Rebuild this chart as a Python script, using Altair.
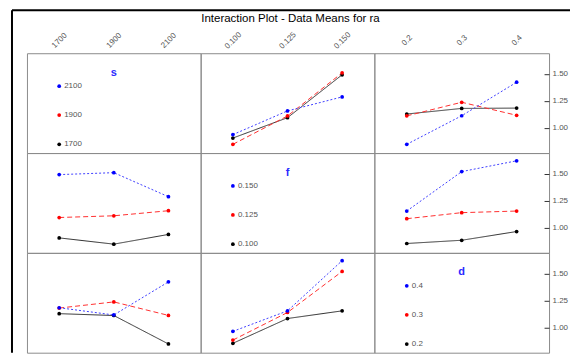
import altair as alt
import pandas as pd

# ---- data ----
factor_names = ["s", "f", "d"]
s_levels = ["1700", "1900", "2100"]
f_levels = ["0.100", "0.125", "0.150"]
d_levels = ["0.2", "0.3", "0.4"]
levels = [s_levels, f_levels, d_levels]

# means of ra: rows = first factor level, cols = second factor level
means_s_f = [[0.905, 1.094, 1.492],
             [0.847, 1.110, 1.510],
             [0.937, 1.157, 1.287]]
means_s_d = [[1.128, 1.180, 1.183],
             [1.111, 1.237, 1.116],
             [0.847, 1.112, 1.423]]
means_f_d = [[0.853, 0.883, 0.964],
             [1.083, 1.139, 1.154],
             [1.154, 1.520, 1.620]]
y_ticks = [1.00, 1.25, 1.50]
title_text = "Interaction Plot - Data Means for ra"

tables = {(0, 1): means_s_f, (0, 2): means_s_d, (1, 2): means_f_d}

# ---- styling ----
colors = ["#000000", "#ff0000", "#0000ff"]
line_colors = ["#303030", "#ff3030", "#4040ff"]
dashes = [[1, 0], [5, 3], [2, 2]]
FONT = "Liberation Sans"
LABEL_COLOR = "#555555"
CELL_W = [174, 174, 175]
CELL_H = 100

xs = alt.Scale(domain=[-0.59, 2.59], nice=False, zero=False)
ys = alt.Scale(domain=[0.766, 1.692], nice=False, zero=False)


def top_axis(c):
    arr = "[" + ",".join("'%s'" % v for v in levels[c]) + "]"
    return alt.Axis(orient="top", values=[0, 1, 2], labelExpr=arr + "[datum.value]",
                    ticks=False, tickSize=0, domain=False, grid=False,
                    labelAngle=315, labelAlign="center", labelBaseline="middle",
                    labelPadding=13, labelFontSize=8, labelColor=LABEL_COLOR,
                    labelFont=FONT, labelFlush=False, labelOverlap=False, title=None)


right_axis = alt.Axis(orient="right", values=y_ticks, format=".2f", offset=-5,
                      tickSize=5, tickColor="#333333", domain=False, grid=False,
                      labelFontSize=8, labelColor=LABEL_COLOR, labelFont=FONT,
                      labelPadding=3, title=None)


def xenc(r, c, field=None, datum=None):
    ax = top_axis(c) if r == 0 else None
    if field is not None:
        return alt.X(field, type="quantitative", scale=xs, axis=ax)
    return alt.X(datum=datum, type="quantitative", scale=xs, axis=ax)


def data_cell(r, c):
    rows = []
    for t in range(3):
        for i in range(3):
            if r < c:
                v = tables[(r, c)][t][i]
            else:
                v = tables[(c, r)][i][t]
            rows.append({"xi": i, "trace": t, "value": v})
    df = pd.DataFrame(rows)
    base = alt.Chart(df).encode(
        x=xenc(r, c, field="xi"),
        y=alt.Y("value:Q", scale=ys, axis=right_axis if c == 2 else None),
    )
    lines = base.mark_line(strokeWidth=1).encode(
        color=alt.Color("trace:N", scale=alt.Scale(domain=[0, 1, 2], range=line_colors), legend=None),
        strokeDash=alt.StrokeDash("trace:N", scale=alt.Scale(domain=[0, 1, 2], range=dashes), legend=None)
    )
    pts = base.mark_circle(size=14, opacity=1).encode(
        color=alt.Color("trace:N", scale=alt.Scale(domain=[0, 1, 2], range=colors), legend=None))
    return alt.layer(lines, pts).resolve_scale(color="independent").properties(
        width=CELL_W[c], height=CELL_H)


def legend_cell(k):
    layers = []
    ypos = [91.3, 62, 33]
    for lv in range(3):
        df = pd.DataFrame({"label": [levels[k][lv]]})
        layers.append(alt.Chart(df).mark_circle(size=14, color=colors[lv], opacity=1).encode(
            x=xenc(k, k, datum=0), y=alt.value(ypos[lv])))
        layers.append(alt.Chart(df).mark_text(align="left", baseline="middle", dx=5, fontSize=8,
                                              font=FONT, color=LABEL_COLOR).encode(
            x=xenc(k, k, datum=0), y=alt.value(ypos[lv]), text="label:N"))
    tdf = pd.DataFrame({"name": [factor_names[k]]})
    layers.append(alt.Chart(tdf).mark_text(baseline="middle", fontSize=11, font=FONT,
                                           fontWeight="bold", color="#2a2aff").encode(
        x=xenc(k, k, datum=1), y=alt.value(19.5), text="name:N"))
    if k == 2:
        layers.append(alt.Chart(pd.DataFrame({"t": y_ticks})).mark_tick(opacity=0).encode(
            y=alt.Y("t:Q", scale=ys, axis=right_axis)))
    if k == 0:
        # outer frame (left and top edges) and the chart title
        fr = pd.DataFrame({"title": [title_text]})
        layers.append(alt.Chart(fr).mark_rule(color="black", strokeWidth=2).encode(
            x=alt.value(-15), x2=alt.value(544), y=alt.value(-43)))
        layers.append(alt.Chart(fr).mark_rule(color="black", strokeWidth=2).encode(
            x=alt.value(-15), y=alt.value(-43), y2=alt.value(300)))
        layers.append(alt.Chart(fr).mark_text(fontSize=11.5, font=FONT, color="black",
                                              baseline="middle").encode(
            x=alt.value(264), y=alt.value(-34), text="title:N"))
    return alt.layer(*layers).properties(width=CELL_W[k], height=CELL_H)


cells = []
for r in range(3):
    for c in range(3):
        cells.append(legend_cell(r) if r == c else data_cell(r, c))

chart = alt.concat(*cells, columns=3, spacing=0, bounds="flush").properties(
    padding={"left": 2, "top": 0, "right": 0, "bottom": 0}
).configure_view(stroke="#8c8c8c", strokeWidth=1)

chart.save("out.html", embed_options={"renderer": "svg", "actions": False})
